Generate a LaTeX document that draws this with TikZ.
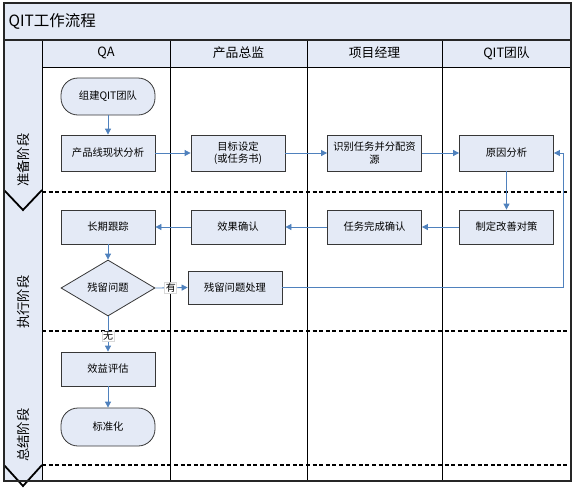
\documentclass[tikz,border=0pt]{standalone}
\usepackage{fontspec}
\setmainfont{Noto Sans CJK SC}
\usetikzlibrary{arrows.meta,shapes.geometric}
\definecolor{lb}{RGB}{228,234,246}
\definecolor{ln}{RGB}{79,129,189}
\definecolor{bd}{RGB}{55,55,55}
\begin{document}
\begin{tikzpicture}[x=1pt,y=-1pt,
  box/.style={draw=bd,fill=lb,line width=0.8pt,minimum width=94pt,minimum height=35pt,inner sep=1pt,
    font=\fontsize{10.3}{12.5}\selectfont,align=center,text width=90pt},
  term/.style={box,rounded corners=17pt},
  dec/.style={diamond,draw=bd,fill=lb,line width=0.8pt,minimum width=94pt,minimum height=56pt,inner sep=0pt,
    font=\fontsize{10.3}{12}\selectfont},
  flow/.style={draw=ln,line width=0.8pt,-{Triangle[length=6pt,width=6pt]}},
  lab/.style={fill=white,draw=black!15,inner sep=1pt,font=\fontsize{10}{11}\selectfont},
  frame/.style={draw=black!85,line width=1.6pt},
  col/.style={draw=black,line width=0.9pt},
  sep/.style={draw=black,line width=2.2pt,dash pattern=on 4pt off 2.6pt},
  vee/.style={draw=black,line width=1.8pt},
  hdr/.style={font=\fontsize{12.8}{14}\selectfont},
  phase/.style={rotate=90,font=\fontsize{13.3}{14}\selectfont}]
\useasboundingbox (0,0) rectangle (577,490);
% backgrounds
\fill[lb] (4,3) rectangle (571,67);
\fill[lb] (4,40) rectangle (42,481);
% column lines
\draw[col] (170,40) -- (170,481);
\draw[col] (307,40) -- (307,481);
\draw[col] (442,40) -- (442,481);
\draw[col] (42,67) -- (571,67);
\draw[col] (42,40) -- (42,481);
% separators
\draw[sep] (42,192) -- (571,192);
\draw[sep] (42,331) -- (571,331);
\draw[sep] (42,465) -- (571,465);
% V chevrons
\draw[vee] (4,190) -- (23,210) -- (42,190);
\draw[vee] (4,465) -- (23,486) -- (42,465);
% frame
\draw[frame] (4,3) rectangle (571,481);
\draw[frame] (4,40) -- (571,40);
% title and headers
\node[anchor=west,font=\fontsize{15.5}{17}\selectfont] (title) at (5,21) {QIT工作流程};
\node[hdr] (hQA) at (106,53) {QA};
\node[hdr] (hPD) at (238.5,53) {产品总监};
\node[hdr] (hPM) at (374.5,53) {项目经理};
\node[hdr] (hQT) at (506.5,53) {QIT团队};
% phases
\node[phase] (p1) at (23,160) {准备阶段};
\node[phase] (p2) at (23,302) {执行阶段};
\node[phase] (p3) at (23,435) {总结阶段};
% nodes
\node[term,minimum height=37pt] (n1) at (108,96.5) {组建QIT团队};
\node[box,minimum height=36pt] (n2) at (108,153) {产品线现状分析};
\node[box,minimum height=36pt] (n3) at (238,153) {目标设定\\(或任务书)};
\node[box,minimum height=36pt] (n4) at (374.5,153) {识别任务并分配资\\源};
\node[box,minimum height=36pt] (n5) at (506.5,153) {原因分析};
\node[box,minimum height=34pt] (n6) at (506.5,227) {制定改善对策};
\node[box,minimum height=34pt] (n7) at (374.5,227) {任务完成确认};
\node[box,minimum height=34pt] (n8) at (238,227) {效果确认};
\node[box,minimum height=34pt] (n9) at (108,227) {长期跟踪};
\node[dec] (n10) at (108,288) {残留问题};
\node[box,minimum height=33pt] (n11) at (235,287.5) {残留问题处理};
\node[box,minimum height=34pt] (n12) at (108,369) {效益评估};
\node[term,minimum height=38pt] (n13) at (108,427) {标准化};
\coordinate (lp1) at (563,287.5);
\coordinate (lp2) at (563,153);
% connectors
\draw[flow] (n1) -- (n2);
\draw[flow] (n2) -- (n3);
\draw[flow] (n3) -- (n4);
\draw[flow] (n4) -- (n5);
\draw[flow] (n5) -- (n6);
\draw[flow] (n6) -- (n7);
\draw[flow] (n7) -- (n8);
\draw[flow] (n8) -- (n9);
\draw[flow] (n9) -- (n10);
\draw[flow] (n10.east) -- node[lab,pos=0.48] {有} (n11.west);
\draw[flow] (n10.south) -- node[lab,pos=0.57] {无} (n12.north);
\draw[flow] (n12) -- (n13);
\draw[flow] (n11.east) -- (lp1) -- (lp2) -- (n5.east);
\end{tikzpicture}
\end{document}
